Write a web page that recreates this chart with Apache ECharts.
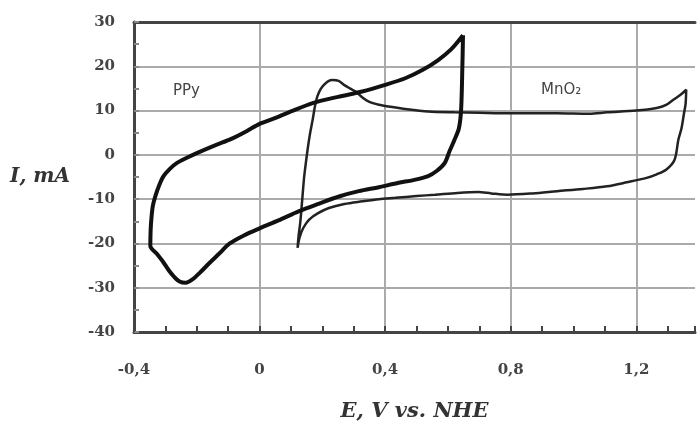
<!DOCTYPE html>
<html>
<head>
<meta charset="utf-8">
<script src="https://cdn.jsdelivr.net/npm/echarts@6/dist/echarts.min.js"></script>
<style>html,body{margin:0;padding:0;background:#fff;overflow:hidden;}#c{width:698px;height:427px;}</style>
</head>
<body>
<div id="c"></div>
<script>
// E (V vs. NHE) and I (mA)
const ppyE = [0.648,0.646,0.642,0.635,0.621,0.605,0.590,0.565,0.537,0.490,0.443,0.380,0.316,0.253,0.190,0.126,0.060,0.000,-0.050,-0.095,-0.130,-0.158,-0.190,-0.215,-0.235,-0.255,-0.274,-0.290,-0.306,-0.328,-0.348,-0.347,-0.344,-0.340,-0.332,-0.320,-0.306,-0.285,-0.263,-0.230,-0.200,-0.140,-0.090,-0.040,0.000,0.053,0.100,0.169,0.250,0.327,0.400,0.464,0.520,0.569,0.610,0.648];
const ppyI = [27.0,20.0,10.2,6.0,3.4,0.8,-1.8,-3.6,-4.8,-5.7,-6.3,-7.3,-8.2,-9.4,-11.0,-12.7,-14.8,-16.6,-18.2,-20.0,-22.4,-24.3,-26.6,-28.2,-28.9,-28.6,-27.4,-26.0,-24.3,-22.3,-20.6,-17.0,-13.9,-11.5,-9.3,-6.9,-4.8,-3.1,-1.8,-0.6,0.4,2.2,3.6,5.4,7.0,8.4,9.8,11.7,13.1,14.3,15.8,17.3,19.2,21.4,23.8,27.0];

const mnoE = [0.121,0.124,0.130,0.136,0.142,0.148,0.153,0.160,0.169,0.176,0.184,0.194,0.205,0.218,0.232,0.252,0.269,0.288,0.306,0.327,0.348,0.380,0.411,0.470,0.537,0.620,0.700,0.800,0.948,1.050,1.107,1.200,1.265,1.295,1.317,1.340,1.359,1.357,1.352,1.344,1.334,1.322,1.296,1.265,1.233,1.170,1.107,1.030,0.948,0.870,0.790,0.738,0.696,0.630,0.559,0.500,0.432,0.380,0.327,0.270,0.221,0.185,0.158,0.140,0.128,0.121];
const mnoI = [-21.0,-18.5,-15.0,-10.0,-5.0,-1.5,1.2,4.5,7.9,10.8,13.2,14.8,15.8,16.6,16.9,16.7,15.8,15.0,14.3,13.0,12.0,11.3,10.9,10.3,9.8,9.6,9.5,9.4,9.4,9.3,9.6,10.0,10.6,11.3,12.4,13.5,14.7,11.5,9.4,6.0,3.4,-1.1,-3.3,-4.4,-5.2,-6.2,-7.1,-7.7,-8.2,-8.7,-9.0,-8.7,-8.4,-8.6,-9.0,-9.3,-9.7,-10.0,-10.5,-11.1,-12.0,-13.2,-14.6,-16.4,-18.5,-21.0];

const xTicks = [-0.4, 0, 0.4, 0.8, 1.2];
const xTickLabels = ['-0,4', '0', '0,4', '0,8', '1,2'];
const yTicks = [-40, -30, -20, -10, 0, 10, 20, 30];
const yTickLabels = ['-40', '-30', '-20', '-10', '0', '10', '20', '30'];

const seriesNames = ['PPy', 'MnO₂'];

function pairs(a, b) { return a.map((v, i) => [v, b[i]]); }
function lookup(v, ticks, labels) {
  for (let i = 0; i < ticks.length; i++) if (Math.abs(v - ticks[i]) < 1e-6) return labels[i];
  return '';
}

const chart = echarts.init(document.getElementById('c'), null, {renderer: 'canvas'});
const serif = 'DejaVu Serif';
const labelStyle = {fontFamily: serif, fontWeight: 'bold', fontSize: 15, color: '#444'};
const nameStyle = {fontFamily: serif, fontWeight: 'bold', fontStyle: 'italic', color: '#333'};
// the picture is cut at its right edge, just short of E = 1.4 V
const xMin = -0.4, xMax = 1.387;
chart.setOption({
  animation: false,
  backgroundColor: '#ffffff',
  grid: {left: 134, right: 0, top: 22, bottom: 94, show: false},
  xAxis: [{
    type: 'value', position: 'bottom', min: xMin, max: xMax, interval: 0.1,
    name: 'E, V vs. NHE', nameLocation: 'middle', nameGap: 69,
    nameTextStyle: Object.assign({fontSize: 21}, nameStyle),
    axisLine: {show: true, onZero: false, lineStyle: {color: '#444', width: 3}},
    axisTick: {show: true, inside: true, length: 6, lineStyle: {color: '#444', width: 2}},
    axisLabel: Object.assign({margin: 31, showMinLabel: true, showMaxLabel: true, hideOverlap: false,
      formatter: v => lookup(v, xTicks, xTickLabels)}, labelStyle),
    splitLine: {show: false}
  }, {
    type: 'value', position: 'top', min: xMin, max: xMax, interval: 0.4,
    axisLine: {show: true, onZero: false, lineStyle: {color: '#444', width: 3}},
    axisTick: {show: false}, axisLabel: {show: false},
    splitLine: {show: true, showMinLine: false, showMaxLine: false, lineStyle: {color: '#aaa', width: 2}}
  }],
  yAxis: [{
    type: 'value', position: 'left', min: -40, max: 30, interval: 5,
    name: 'I, mA', nameLocation: 'middle', nameRotate: 0, nameGap: 64,
    nameTextStyle: Object.assign({fontSize: 20}, nameStyle),
    axisLine: {show: true, onZero: false, lineStyle: {color: '#444', width: 3}},
    axisTick: {show: true, inside: true, length: 5, lineStyle: {color: '#888', width: 2}},
    axisLabel: Object.assign({margin: 19, formatter: v => lookup(v, yTicks, yTickLabels)}, labelStyle),
    splitLine: {show: false}
  }, {
    type: 'value', position: 'right', min: -40, max: 30, interval: 10,
    axisLine: {show: false}, axisTick: {show: false}, axisLabel: {show: false},
    splitLine: {show: true, showMinLine: false, showMaxLine: false, lineStyle: {color: '#aaa', width: 2}}
  }],
  graphic: [
    {type: 'text', left: 173, top: 84, style: {text: 'PPy', font: '15px "DejaVu Sans"', fill: '#444'}},
    {type: 'text', left: 541, top: 83, style: {text: 'MnO₂', font: '15px "DejaVu Sans"', fill: '#444'}}
  ],
  series: [
    {name: seriesNames[0], type: 'line', xAxisIndex: 0, yAxisIndex: 0, data: pairs(ppyE, ppyI),
      showSymbol: false, smooth: 0.3, lineStyle: {color: '#111', width: 4}, z: 3},
    {name: seriesNames[1], type: 'line', xAxisIndex: 0, yAxisIndex: 0, data: pairs(mnoE, mnoI),
      showSymbol: false, smooth: 0.3, lineStyle: {color: '#222', width: 2.5}, z: 2}
  ]
});
</script>
</body>
</html>
